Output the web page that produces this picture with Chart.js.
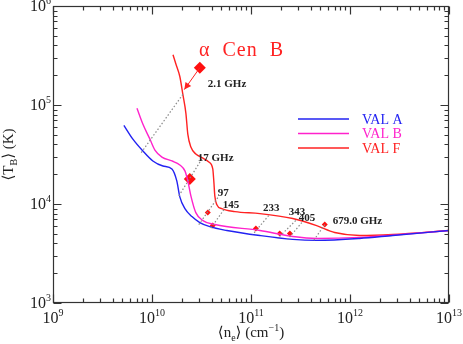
<!DOCTYPE html>
<html>
<head>
<meta charset="utf-8">
<script src="https://cdn.jsdelivr.net/npm/chart.js@4/dist/chart.umd.min.js"></script>
<style>
  html, body { margin: 0; padding: 0; background: #fff; }
</style>
</head>
<body>
<canvas id="c" width="463" height="344"></canvas>
<script>
// model curves: mean brightness temperature vs mean electron density
var valAx = [5.2e9, 6.41e9, 8.1e9, 1.02e10, 1.29e10, 1.59e10, 1.78e10, 1.91e10, 2.15e10, 2.53e10, 3.04e10, 3.84e10, 5.7e10, 1.23e11, 2.64e11, 4.6e11, 1.25e12, 2.7e12, 1e13];
var valAy = [6.24e4, 4.52e4, 3.43e4, 2.72e4, 2.42e4, 2.26e4, 1.71e4, 1.18e4, 8.97e3, 7.46e3, 6.5e3, 5.9e3, 5.4e3, 4.8e3, 4.39e3, 4.29e3, 4.49e3, 4.81e3, 5.4e3];

var valBx = [7.05e9, 8.1e9, 9.53e9, 1.07e10, 1.26e10, 1.59e10, 1.91e10, 2.15e10, 2.30e10, 2.47e10, 2.77e10, 3.27e10, 4.31e10, 1.23e11, 2.64e11, 4.6e11, 1.25e12, 1e13];
var valBy = [9.25e4, 6.38e4, 4.52e4, 3.51e4, 2.98e4, 2.72e4, 2.48e4, 2.16e4, 1.71e4, 1.21e4, 8.18e3, 6.8e3, 6.2e3, 5.4e3, 4.7e3, 4.49e3, 4.6e3, 5.4e3];

var valFx = [1.63e10, 1.74e10, 1.91e10, 2.05e10, 2.20e10, 2.30e10, 2.47e10, 2.77e10, 3.27e10, 3.75e10, 4.11e10, 4.21e10, 4.31e10, 4.52e10, 5.07e10, 6.87e10, 1.23e11, 2.64e11, 4.6e11, 7.0e11, 1.25e12, 2.7e12, 1e13];
var valFy = [3.22e5, 2.61e5, 1.94e5, 1.28e5, 8.24e4, 5.07e4, 3.76e4, 3.2e4, 2.91e4, 2.66e4, 2.26e4, 1.71e4, 1.21e4, 9.84e3, 8.97e3, 8.37e3, 8.0e3, 7.13e3, 6.05e3, 5.15e3, 4.81e3, 4.92e3, 5.4e3];

var modelNames = ['VAL A', 'VAL B', 'VAL F'];

// frequency lines (tau = 1 between VAL F and VAL A)
var freqLabels = ['2.1 GHz', '17 GHz', '97', '145', '233', '343', '405', '679.0 GHz'];
var freqTopX = [2.05e10, 3.19e10, 4.62e10, 5.32e10, 1.51e11, 2.83e11, 3.26e11, 5.56e11];
var freqTopY = [1.28e5, 2.85e4, 1.16e4, 8.77e3, 7.64e3, 6.81e3, 6.5e3, 6.2e3];
var freqBotX = [7.73e9, 1.82e10, 2.97e10, 3.84e10, 1.04e11, 1.86e11, 2.35e11, 4.30e11];
var freqBotY = [3.27e4, 1.16e4, 6.2e3, 5.52e3, 4.92e3, 4.49e3, 4.39e3, 4.29e3];
var freqTextX = [3.66e10, 2.90e10, 4.62e10, 5.19e10, 1.32e11, 2.40e11, 3.03e11, 6.68e11];
var freqTextY = [1.61e5, 2.91e4, 1.30e4, 9.84e3, 9.18e3, 8.18e3, 7.13e3, 6.64e3];

// alpha Cen B observations
var starName = 'α Cen B';
var bigObsX = [3.04e10, 2.41e10];
var bigObsY = [2.38e5, 1.79e4];
var smallObsX = [3.66e10, 4.11e10, 1.12e11, 1.95e11, 2.47e11, 5.56e11];
var smallObsY = [8.2e3, 6.05e3, 5.65e3, 5.03e3, 5.03e3, 6.2e3];
var arrowX = [3.04e10, 2.12e10];
var arrowY = [2.38e5, 1.43e5];

var xDecades = [9, 10, 11, 12, 13];
var yDecades = [3, 4, 5, 6];

var FONT = '"Liberation Serif", "DejaVu Serif", serif';
var colors = ['#2222f2', '#ff22cc', '#ff2222'];

function pts(xs, ys) { return xs.map(function (x, i) { return { x: x, y: ys[i] }; }); }

var datasets = [];
freqLabels.forEach(function (f, i) {
  datasets.push({
    label: f, data: [{ x: freqTopX[i], y: freqTopY[i] }, { x: freqBotX[i], y: freqBotY[i] }],
    showLine: true, borderColor: '#8a8a8a', borderWidth: 1.2, borderDash: [1.5, 2], pointRadius: 0
  });
});
[[valAx, valAy], [valBx, valBy], [valFx, valFy]].forEach(function (s, i) {
  datasets.push({
    label: modelNames[i], data: pts(s[0], s[1]), showLine: true,
    borderColor: colors[i], borderWidth: 1.4, pointRadius: 0, cubicInterpolationMode: 'monotone'
  });
});
datasets.push({ label: 'arrow', data: pts(arrowX, arrowY), showLine: true, borderColor: '#ff2222', borderWidth: 1, pointRadius: 0 });
datasets.push({ label: 'big', data: pts(bigObsX, bigObsY), pointStyle: 'rectRot', pointRadius: 6, backgroundColor: '#ff1010', borderColor: '#ff1010', borderWidth: 0 });
datasets.push({ label: 'small', data: pts(smallObsX, smallObsY), pointStyle: 'rectRot', pointRadius: 3, backgroundColor: '#ff1010', borderColor: '#ff1010', borderWidth: 0 });

function rich(ctx, parts, x, y, align, size) {
  var w = 0;
  var fonts = parts.map(function (p) { return (p[1] ? Math.round(size * 0.65) : size) + 'px ' + FONT; });
  parts.forEach(function (p, i) { ctx.font = fonts[i]; w += ctx.measureText(p[0]).width; });
  var cx = align === 'center' ? x - w / 2 : align === 'right' ? x - w : x;
  ctx.textAlign = 'left';
  ctx.textBaseline = 'alphabetic';
  parts.forEach(function (p, i) {
    ctx.font = fonts[i];
    var dy = p[1] === 1 ? -size * 0.42 : p[1] === -1 ? size * 0.28 : 0;
    ctx.fillText(p[0], cx, y + dy);
    cx += ctx.measureText(p[0]).width;
  });
}

var decor = {
  id: 'decor',
  afterDatasetsDraw: function (chart) {
    var ctx = chart.ctx, a = chart.chartArea, xs = chart.scales.x, ys = chart.scales.y;
    ctx.save();
    // arrow head
    var am = chart.getDatasetMeta(datasets.length - 3).data;
    var p0 = am[0], p1 = am[1];
    var ang = Math.atan2(p1.y - p0.y, p1.x - p0.x);
    ctx.fillStyle = '#ff2222';
    ctx.beginPath();
    ctx.moveTo(p1.x, p1.y);
    ctx.lineTo(p1.x - 7 * Math.cos(ang) + 3.5 * Math.sin(ang), p1.y - 7 * Math.sin(ang) - 3.5 * Math.cos(ang));
    ctx.lineTo(p1.x - 7 * Math.cos(ang) - 3.5 * Math.sin(ang), p1.y - 7 * Math.sin(ang) + 3.5 * Math.cos(ang));
    ctx.closePath();
    ctx.fill();

    // frame + inward ticks
    var L = Math.round(a.left) + 0.5, R = Math.round(a.right) - 0.5, T = Math.round(a.top) + 0.5, B = Math.round(a.bottom) - 0.5;
    ctx.strokeStyle = '#333';
    ctx.lineWidth = 1.2;
    ctx.strokeRect(L, T, R - L, B - T);
    ctx.beginPath();
    xDecades.forEach(function (d, i) {
      for (var k = 1; k <= 9; k++) {
        if (k > 1 && i === xDecades.length - 1) break;
        var px = Math.round(xs.getPixelForValue(k * Math.pow(10, d))) + 0.5;
        var len = k === 1 ? 8 : 4;
        ctx.moveTo(px, B); ctx.lineTo(px, B - len);
        ctx.moveTo(px, T); ctx.lineTo(px, T + len);
      }
    });
    yDecades.forEach(function (d, i) {
      for (var k = 1; k <= 9; k++) {
        if (k > 1 && i === yDecades.length - 1) break;
        var py = Math.round(ys.getPixelForValue(k * Math.pow(10, d))) + 0.5;
        var len = k === 1 ? 8 : 4;
        ctx.moveTo(L, py); ctx.lineTo(L + len, py);
        ctx.moveTo(R, py); ctx.lineTo(R - len, py);
      }
    });
    ctx.stroke();

    // tick labels
    ctx.fillStyle = '#222';
    xDecades.forEach(function (d) {
      rich(ctx, [['10', 0], [String(d), 1]], xs.getPixelForValue(Math.pow(10, d)), 323, 'center', 16);
    });
    yDecades.forEach(function (d) {
      rich(ctx, [['10', 0], [String(d), 1]], 51, ys.getPixelForValue(Math.pow(10, d)) + 5, 'right', 16);
    });

    // axis titles
    rich(ctx, [['⟨n', 0], ['e', -1], ['⟩ (cm', 0], ['−1', 1], [')', 0]], (a.left + a.right) / 2, 337, 'center', 15);
    ctx.save();
    ctx.translate(13, (a.top + a.bottom) / 2);
    ctx.rotate(-Math.PI / 2);
    rich(ctx, [['⟨T', 0], ['B', -1], ['⟩ (K)', 0]], 0, 0, 'center', 15);
    ctx.restore();

    // legend
    modelNames.forEach(function (n, i) {
      var y = 119 + i * 14.5;
      ctx.strokeStyle = colors[i];
      ctx.lineWidth = 1.6;
      ctx.beginPath(); ctx.moveTo(298, y); ctx.lineTo(349, y); ctx.stroke();
      ctx.fillStyle = colors[i];
      ctx.font = '14px ' + FONT;
      ctx.textAlign = 'left'; ctx.textBaseline = 'middle';
      ctx.fillText(n, 362, y + 1);
    });

    // frequency labels
    ctx.fillStyle = '#222';
    ctx.font = 'bold 11px ' + FONT;
    ctx.textAlign = 'left'; ctx.textBaseline = 'middle';
    freqLabels.forEach(function (f, i) {
      ctx.fillText(f, xs.getPixelForValue(freqTextX[i]), ys.getPixelForValue(freqTextY[i]));
    });

    // star name
    ctx.fillStyle = '#ff2222';
    ctx.font = '20px ' + FONT;
    ctx.letterSpacing = '1px';
    ctx.textBaseline = 'alphabetic';
    ctx.fillText(starName.replace(/ /g, '  '), 199, 56);
    ctx.restore();
  }
};

new Chart(document.getElementById('c'), {
  type: 'scatter',
  data: { datasets: datasets },
  options: {
    responsive: false,
    animation: false,
    layout: { padding: { top: 4, right: 14, left: 0, bottom: 0 } },
    plugins: { legend: { display: false }, tooltip: { enabled: false } },
    scales: {
      x: {
        type: 'logarithmic', min: 1e9, max: 1e13,
        grid: { display: false }, border: { display: false }, ticks: { display: false },
        afterFit: function (s) { s.height = 41; }
      },
      y: {
        type: 'logarithmic', min: 1e3, max: 1e6,
        grid: { display: false }, border: { display: false }, ticks: { display: false },
        afterFit: function (s) { s.width = 53; }
      }
    }
  },
  plugins: [decor]
});
</script>
</body>
</html>
